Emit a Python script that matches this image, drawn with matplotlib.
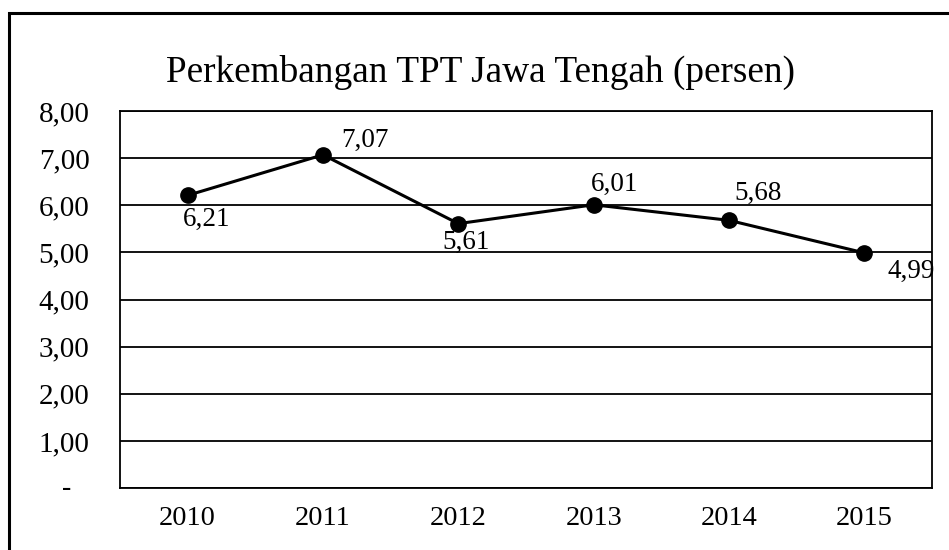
import matplotlib
matplotlib.use("Agg")
import matplotlib.pyplot as plt
from matplotlib.patches import Rectangle
import matplotlib.transforms as mtransforms

# data
years = ["2010", "2011", "2012", "2013", "2014", "2015"]
tpt = [6.21, 7.07, 5.61, 6.01, 5.68, 4.99]
value_labels = ["6,21", "7,07", "5,61", "6,01", "5,68", "4,99"]
ytick_vals = [1, 2, 3, 4, 5, 6, 7, 8]
ytick_labels = ["1,00", "2,00", "3,00", "4,00", "5,00", "6,00", "7,00", "8,00"]

# label offsets in pixels (dx, dy) from each point, text centred
label_offsets = [(19, -24), (42, 14), (8, -19), (21, 20), (29, 27), (47, -19)]

plt.rcParams['font.family'] = ['Liberation Serif', 'DejaVu Serif']

fig = plt.figure(figsize=(9.49, 5.50), dpi=100, facecolor='white')
ax = fig.add_axes([120 / 949, 1 - 488 / 550, 812 / 949, 377 / 550])

# outer chart border (runs off the right and bottom of the picture)
border = Rectangle((9 / 949, -0.5), 1.5, 1.5 - 13 / 550,
                   transform=fig.transFigure, fill=False,
                   edgecolor='black', linewidth=2.2, clip_on=False)
fig.patches.append(border)

x = [i + 0.5 for i in range(len(years))]
ax.plot(x, tpt, color='black', linewidth=2.2, marker='o',
        markersize=11, markerfacecolor='black', markeredgecolor='black',
        zorder=3)

for xi, yi, lab, (dx, dy) in zip(x, tpt, value_labels, label_offsets):
    ax.annotate(lab, (xi, yi), xytext=(dx * 0.72, dy * 0.72),
                textcoords='offset points', ha='center', va='center',
                fontsize=19.5, annotation_clip=False)

ax.set_xlim(0, 6)
ax.set_ylim(0, 8)
ax.set_xticks(x)
ax.set_xticklabels(years, fontsize=20.5)
ax.set_yticks([0] + ytick_vals)
ax.set_yticklabels([""] + ytick_labels, fontsize=21)
ax.tick_params(axis='both', length=0)
ax.tick_params(axis='y', pad=22)
ax.tick_params(axis='x', pad=13)

# zero shown as a dash, the way the spreadsheet formats it
trans = mtransforms.blended_transform_factory(ax.transAxes, ax.transData)
ax.text(-53 / 812, 0, "-", transform=trans, ha='center', va='center',
        fontsize=20)

ax.grid(axis='y', color='black', linewidth=1.3)
ax.set_axisbelow(True)
for s in ax.spines.values():
    s.set_color('black')
    s.set_linewidth(1.3)

fig.text(480 / 949, 1 - 72 / 550, "Perkembangan TPT Jawa Tengah (persen)",
         ha='center', va='center', fontsize=26.8)

fig.savefig("out.png", dpi=100, facecolor='white')
